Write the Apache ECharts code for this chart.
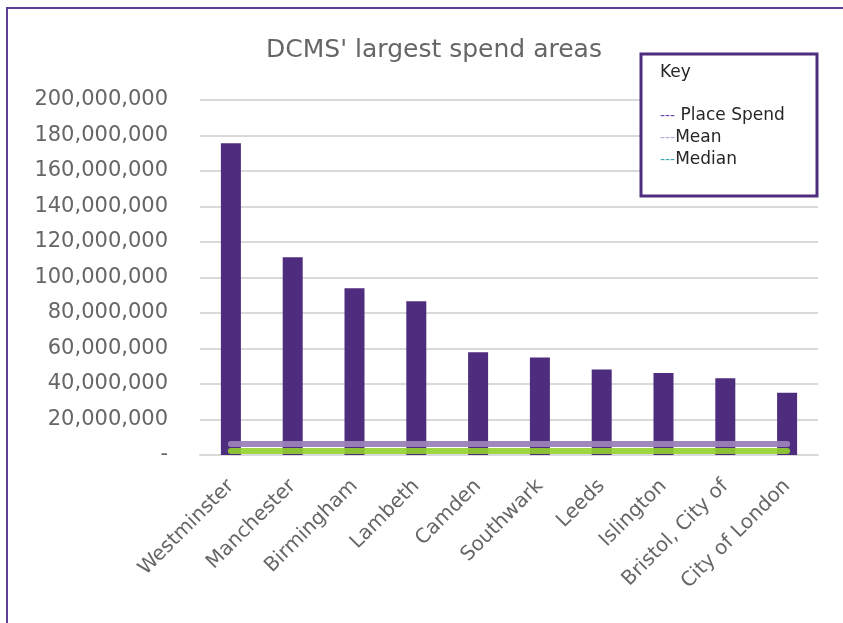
<!DOCTYPE html>
<html>
<head>
<meta charset="utf-8">
<script src="https://cdn.jsdelivr.net/npm/echarts@6/dist/echarts.min.js"></script>
<style>html,body{margin:0;padding:0;background:#fff}#c{width:843px;height:623px}</style>
</head>
<body>
<div id="c"></div>
<script>
const categories = ['Westminster','Manchester','Birmingham','Lambeth','Camden','Southwark','Leeds','Islington','Bristol, City of','City of London'];
const placeSpend = [175600000,111400000,93900000,86600000,57900000,55000000,48100000,46200000,43200000,35100000];
const meanValue = 6200000;
const medianValue = 2300000;
const meanLine = categories.map(() => meanValue);
const medianLine = categories.map(() => medianValue);
const yTicks = { min: 0, max: 200000000, interval: 20000000 };

const FONT = 'DejaVu Sans';
const TEXT = '#666666';
const chart = echarts.init(document.getElementById('c'), null, { renderer: 'canvas' });
chart.setOption({
  backgroundColor: '#ffffff',
  animation: false,
  title: {
    text: "DCMS' largest spend areas",
    left: 429, top: 33, textAlign: 'center',
    textStyle: { fontFamily: FONT, fontSize: 25, fontWeight: 'normal', color: TEXT }
  },
  grid: { left: 200, right: 25, top: 100, bottom: 168, containLabel: false },
  xAxis: {
    type: 'category', data: categories, boundaryGap: true,
    axisLine: { show: true, lineStyle: { color: '#d9d9d9', width: 2 } },
    axisTick: { show: false },
    axisLabel: { rotate: 45, interval: 0, margin: 28, fontFamily: FONT, fontSize: 20, color: TEXT }
  },
  yAxis: {
    type: 'value', min: yTicks.min, max: yTicks.max, interval: yTicks.interval,
    axisLine: { show: false }, axisTick: { show: false },
    splitLine: { lineStyle: { color: '#d9d9d9', width: 2 } },
    axisLabel: {
      margin: 32, fontFamily: FONT, fontSize: 21, color: TEXT,
      formatter: v => v === 0 ? '-' : v.toLocaleString('en-US')
    }
  },
  series: [
    { name: 'Place Spend', type: 'bar', data: placeSpend, barWidth: 20,
      itemStyle: { color: '#4e2d7e' }, z: 2 },
    { name: 'Mean', type: 'line', data: meanLine, symbol: 'none',
      lineStyle: { color: '#9a82b8', width: 6, cap: 'round', opacity: 0.95 }, z: 3 },
    { name: 'Median', type: 'line', data: medianLine, symbol: 'none',
      lineStyle: { color: '#94d22e', width: 6, cap: 'round', opacity: 0.9 }, z: 4 }
  ],
  graphic: [
    { type: 'rect', shape: { x: 7, y: 8, width: 900, height: 700 }, silent: true,
      style: { fill: 'none', stroke: '#5d3f98', lineWidth: 2 }, z: 100 },
    { type: 'rect', shape: { x: 641, y: 54, width: 176, height: 142 }, silent: true,
      style: { fill: '#ffffff', stroke: '#4e2d7e', lineWidth: 3 }, z: 100 },
    { type: 'text', x: 660, y: 73, z: 101,
      style: { text: 'Key', fontFamily: FONT, fontSize: 17, fill: '#262626', verticalAlign: 'middle' } },
    { type: 'text', x: 660, y: 116, z: 101,
      style: { text: '{d|---} Place Spend', fontFamily: FONT, fontSize: 17, fill: '#262626', verticalAlign: 'middle',
        rich: { d: { fill: '#6a43b0', fontFamily: FONT, fontSize: 14 } } } },
    { type: 'text', x: 660, y: 138, z: 101,
      style: { text: '{d|---}Mean', fontFamily: FONT, fontSize: 17, fill: '#262626', verticalAlign: 'middle',
        rich: { d: { fill: '#b9a6e0', fontFamily: FONT, fontSize: 14 } } } },
    { type: 'text', x: 660, y: 160, z: 101,
      style: { text: '{d|---}Median', fontFamily: FONT, fontSize: 17, fill: '#262626', verticalAlign: 'middle',
        rich: { d: { fill: '#3aa6b6', fontFamily: FONT, fontSize: 14 } } } }
  ]
});
</script>
</body>
</html>
